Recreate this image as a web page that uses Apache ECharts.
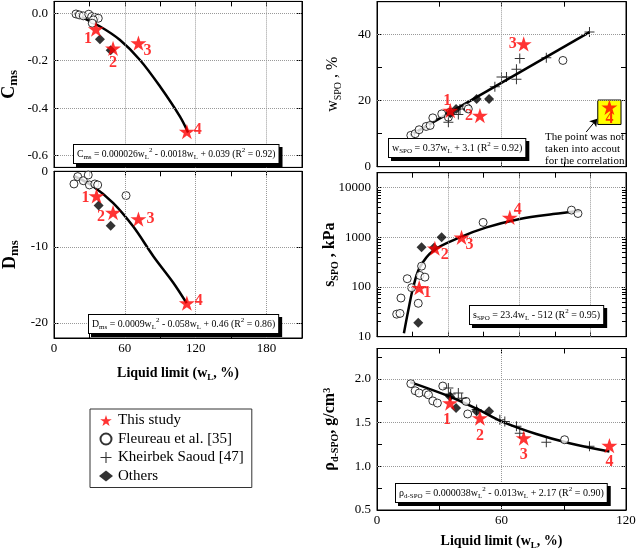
<!DOCTYPE html>
<html><head><meta charset="utf-8">
<script src="https://cdn.jsdelivr.net/npm/echarts@6/dist/echarts.min.js"></script>
<style>html,body{margin:0;padding:0;background:#fff}#c{width:637px;height:553px}</style>
</head><body><div id="c"></div>
<script>
// ---------------- data ----------------
const starLabels = ['1', '2', '3', '4'];
const seriesNames = ['This study', 'Fleureau et al. [35]', 'Kheirbek Saoud [47]', 'Others'];

// C_ms panel
const cmsStudy = [[35.5, -0.067], [50, -0.148], [71.5, -0.126], [112.5, -0.499]];
const cmsFleureau = [[18.6, -0.003], [21.4, -0.007], [24.8, -0.011], [29.4, -0.004], [31.9, -0.014], [34.7, -0.017], [37.5, -0.021], [33.3, -0.028], [32.4, -0.042]];
const cmsOthers = [[38.9, -0.11], [48, -0.156]];
const cmsFit = [[16.9, 0], [39, -0.056], [55.9, -0.113], [72.8, -0.197], [89.8, -0.309], [106.7, -0.436], [113.5, -0.503]];

// D_ms panel
const dmsStudy = [[36, -3.25], [50, -5.45], [71.5, -6.3], [112.5, -17.4]];
const dmsFleureau = [[16.9, -1.67], [20.1, -0.7], [24.8, -1.24], [29, -0.49], [30, -1.8], [34.6, -1.67], [37, -1.8], [61, -3.2]];
const dmsOthers = [[37.8, -4.5], [48, -7.2]];
const dmsFit = [[16.9, -0.62], [33.3, -2.0], [50.2, -4.2], [67.1, -7.3], [84.1, -11.2], [101, -14.7], [112.3, -17.4]];

// w_SPO panel
const wStudy = [[35.3, 17], [49.6, 15.5], [70.7, 37.2], [112, 18]];
const wFleureau = [[16.3, 9.5], [18.4, 10], [20.3, 11.2], [23.7, 12.2], [25.6, 12.5], [26.9, 14.8], [31.2, 16], [34.4, 15], [35.2, 16.5], [43.2, 18], [44, 17.5], [89.6, 32.2]];
const wKheirbek = [[34.4, 13.5], [39.2, 15.8], [40, 17.5], [56.8, 24.2], [60, 27.2], [62.4, 27.2], [67.2, 26.5], [67.2, 29.5], [68.8, 32.8], [81.6, 33], [102.4, 40.8]];
const wOthers = [[35.3, 16.2], [38.1, 17.5], [48, 20.5], [54, 20.5]];
const wFit = [[16, 9.5], [102.4, 40.8]];
const wExcludedBox = [[106.4, 12.8], [117.6, 20.2]];
const wArrow = [[100.8, 10.5], [106.1, 14.5]];

// s_SPO panel (log)
const sStudy = [[35.6, 97], [48.8, 603], [71.3, 1000], [112, 2512]];
const sFleureau = [[16.6, 28.4], [19.4, 29.4], [20.2, 60], [25.5, 147], [29.2, 97], [34.8, 47], [36.2, 171], [37.6, 263], [40.4, 158], [89.5, 1995], [164, 3532], [169.5, 3020]];
const sOthers = [[37.6, 631], [48, 614], [54.5, 1000], [34.8, 19]];
const sFit = [[22.7, 11.7], [26.4, 34], [30.6, 100], [36.2, 251], [47.4, 540], [69.9, 1000], [92.4, 1585], [120.4, 2344], [148.5, 2951], [171, 3400]];

// rho_d-SPO panel
const rStudy = [[35.2, 1.725], [49.6, 1.553], [70.7, 1.324], [112, 1.237]];
const rFleureau = [[16.3, 1.947], [18.4, 1.866], [20.3, 1.84], [23.7, 1.84], [24.8, 1.82], [26.9, 1.75], [29.1, 1.725], [31.7, 1.92], [42.9, 1.744], [43.7, 1.6], [90.4, 1.305]];
const rKheirbek = [[34.4, 1.897], [35.5, 1.83], [39.2, 1.84], [40.8, 1.78], [48, 1.65], [59.2, 1.534], [61.6, 1.515], [67.2, 1.458], [68.8, 1.38], [81.6, 1.275], [102.4, 1.229]];
const rOthers = [[35.2, 1.80], [38.1, 1.668], [48, 1.63], [54, 1.63]];
const rFit = [[16, 1.965], [35, 1.8], [48, 1.66], [60, 1.515], [76.8, 1.37], [92.8, 1.265], [112, 1.17]];

// tick labels
const leftXTicks = [0, 60, 120, 180];
const rightXTicks = [0, 60, 120];
const cmsYTicks = [-0.6, -0.4, -0.2, 0];
const dmsYTicks = [-20, -10, 0];
const wYTicks = [0, 20, 40];
const sYTicks = [10, 100, 1000, 10000];
const sYMinorTicks = [10, 20, 30, 40, 50, 60, 70, 80, 90, 100, 200, 300, 400, 500, 600, 700, 800, 900, 1000, 2000, 3000, 4000, 5000, 6000, 7000, 8000, 9000, 10000];
const rYTicks = [0.5, 1.0, 1.5, 2.0];

// ---------------- styling / layout ----------------
const FONT = "'Liberation Serif','Times New Roman',serif";
const STAR = 'path://M50,0L61.23,34.55L97.55,34.55L68.17,55.9L79.39,90.45L50,69.1L20.61,90.45L31.83,55.9L2.45,34.55L38.77,34.55Z';
const PLUS = 'path://M9,0h2v9h9v2h-9v9h-2v-9h-9v-2h9z';

const labelOffsets = [
  [[-8, 10], [0, 15], [9, 8], [11, -2]],
  [[-11, 2], [-12, 4], [12, 0], [12, -2]],
  [[-3, -10], [-11, 0], [-11, 0], [0, 12]],
  [[8, 5], [10, 7], [8, 8], [8, -8]],
  [[-3, 17], [0, 18], [0, 17], [0, 16]]
];

const grids = [
  {left: 54, top: 1.4, width: 248, height: 166},
  {left: 54, top: 171.3, width: 248, height: 166.7},
  {left: 377, top: 1.7, width: 249, height: 165},
  {left: 377, top: 172.7, width: 249, height: 164},
  {left: 377, top: 348.5, width: 249, height: 161.5}
].map(g => Object.assign({show: true, borderColor: '#000', borderWidth: 1, backgroundColor: 'transparent', containLabel: false, outerBoundsMode: 'none'}, g));

const tickLbl = {fontFamily: FONT, fontSize: 13, color: '#000'};
const axLine = {show: true, onZero: false, lineStyle: {color: '#000', width: 1}};
const axTick = {show: true, inside: true, length: 5, lineStyle: {color: '#000', width: 1}};

function xAxes(gi, max, showLabels, ticks, name, nameGap) {
  const base = {type: 'value', gridIndex: gi, min: 0, max: max, interval: 30, splitLine: {show: false},
    axisLine: axLine, axisTick: axTick};
  const bottom = Object.assign({}, base, {position: 'bottom',
    axisLabel: Object.assign({show: showLabels, margin: 4, formatter: v => ticks.indexOf(v) >= 0 ? String(v) : ''}, tickLbl)});
  if (name) {
    Object.assign(bottom, {name: name, nameLocation: 'middle', nameGap: nameGap, nameMoveOverlap: false,
      nameTextStyle: {rich: {
        a: {fontFamily: FONT, fontSize: 14, fontWeight: 'bold', color: '#000', lineHeight: 16, verticalAlign: 'top'},
        b: {fontFamily: FONT, fontSize: 9, fontWeight: 'bold', color: '#000', lineHeight: 9, verticalAlign: 'bottom'}
      }}});
  }
  const top = Object.assign({}, base, {position: 'top', axisLabel: {show: false}});
  return [bottom, top];
}

function yAxes(gi, opts, name, nameGap, rich) {
  const base = Object.assign({gridIndex: gi, splitLine: {show: false}, axisLine: axLine}, opts.base);
  const left = Object.assign({}, base, {position: 'left',
    axisTick: Object.assign({}, axTick, opts.tick || {}),
    axisLabel: Object.assign({margin: 6}, tickLbl, opts.label),
    name: name, nameLocation: 'middle', nameGap: nameGap, nameRotate: 90, nameMoveOverlap: false,
    nameTextStyle: {rich: rich}});
  const right = Object.assign({}, base, {position: 'right',
    axisTick: Object.assign({}, axTick, opts.tick || {}), axisLabel: {show: false}});
  return [left, right];
}

function richName(bold, size, subSize) {
  const w = bold ? 'bold' : 'normal';
  return {
    a: {fontFamily: FONT, fontSize: size, fontWeight: w, color: '#000', lineHeight: size + 2, verticalAlign: 'top'},
    b: {fontFamily: FONT, fontSize: subSize, fontWeight: w, color: '#000', lineHeight: subSize, verticalAlign: 'bottom'},
    c: {fontFamily: FONT, fontSize: subSize, fontWeight: w, color: '#000', lineHeight: subSize, verticalAlign: 'top'}
  };
}

const xAxis = [].concat(
  xAxes(0, 210, false, leftXTicks),
  xAxes(1, 210, true, leftXTicks, '{a|Liquid limit (w}{b|L}{a|, %)}', 28),
  xAxes(2, 120, false, rightXTicks),
  xAxes(3, 210, false, leftXTicks),
  xAxes(4, 120, true, rightXTicks, '{a|Liquid limit (w}{b|L}{a|, %)}', 24)
);

const yAxis = [].concat(
  yAxes(0, {base: {type: 'value', min: -0.65, max: 0.05},
    tick: {customValues: cmsYTicks}, label: {customValues: cmsYTicks, formatter: v => v.toFixed(1)}},
    '{a|C}{b|ms}', 34, richName(true, 18, 13)),
  yAxes(1, {base: {type: 'value', min: -22, max: 0},
    tick: {customValues: dmsYTicks}, label: {customValues: dmsYTicks, formatter: v => String(v)}},
    '{a|D}{b|ms}', 33, richName(true, 18, 13)),
  yAxes(2, {base: {type: 'value', min: 0, max: 50, interval: 10},
    label: {formatter: v => wYTicks.indexOf(v) >= 0 ? String(v) : '', showMaxLabel: false}},
    '{a|w}{b|SPO}{a| , %}', 34, richName(false, 16, 10)),
  yAxes(3, {base: {type: 'log', logBase: 10, min: 10, max: 20000},
    tick: {customValues: sYMinorTicks, length: 4},
    label: {customValues: sYTicks, formatter: v => String(Math.round(v))}},
    '{a|s}{b|SPO}{a| , kPa}', 37, richName(true, 16, 10)),
  yAxes(4, {base: {type: 'value', min: 0.5, max: 2.35, interval: 0.25},
    label: {formatter: v => (Math.abs(v * 2 - Math.round(v * 2)) < 1e-6) ? v.toFixed(1) : '', showMaxLabel: false}},
    '{a|ρ}{b|d-SPO}{a|, g/cm}{c|3}', 37, richName(true, 16, 10))
);

// ---------------- series ----------------
function studySeries(gi, data) {
  return {name: seriesNames[0], type: 'scatter', xAxisIndex: gi * 2, yAxisIndex: gi * 2,
    symbol: STAR, symbolSize: 16, symbolKeepAspect: true, z: 6,
    itemStyle: {color: '#ff0000'}, emphasis: {disabled: true},
    label: {show: true, position: 'inside', formatter: p => starLabels[p.dataIndex],
      color: '#ff0000', fontWeight: 'bold', fontSize: 16, fontFamily: FONT},
    data: data.map((d, i) => ({value: d, label: {offset: labelOffsets[gi][i]}}))
  };
}
function circleSeries(gi, data) {
  return {name: seriesNames[1], type: 'scatter', xAxisIndex: gi * 2, yAxisIndex: gi * 2,
    symbol: 'circle', symbolSize: 8, z: 4, emphasis: {disabled: true},
    itemStyle: {color: '#fff', borderColor: '#000', borderWidth: 1}, data: data};
}
function plusSeries(gi, data) {
  return {name: seriesNames[2], type: 'scatter', xAxisIndex: gi * 2, yAxisIndex: gi * 2,
    symbol: PLUS, symbolSize: 10, z: 4, emphasis: {disabled: true},
    itemStyle: {color: '#000'}, data: data};
}
function diamondSeries(gi, data) {
  return {name: seriesNames[3], type: 'scatter', xAxisIndex: gi * 2, yAxisIndex: gi * 2,
    symbol: 'diamond', symbolSize: 10, z: 5, emphasis: {disabled: true},
    itemStyle: {color: '#000'}, data: data};
}
function fitSeries(gi, data, vx, hy, extraLines, area) {
  const ml = vx.map(v => ({xAxis: v})).concat(hy.map(v => ({yAxis: v}))).concat(extraLines || []);
  const s = {name: 'fit', type: 'line', xAxisIndex: gi * 2, yAxisIndex: gi * 2, data: data,
    smooth: 0.35, showSymbol: false, symbol: 'none', z: 2, silent: true, emphasis: {disabled: true},
    lineStyle: {color: '#000', width: 2.5},
    markLine: {silent: true, symbol: 'none', animation: false, label: {show: false},
      lineStyle: {type: 'dotted', color: '#999', width: 1}, data: ml}};
  if (area) {
    s.markArea = {silent: true, itemStyle: {color: '#ffff00', borderColor: '#000', borderWidth: 1},
      data: [[{coord: area[0]}, {coord: area[1]}]]};
  }
  return s;
}

const arrowLine = [[
  {coord: wArrow[0], symbol: 'none', lineStyle: {type: 'solid', color: '#000', width: 1}},
  {coord: wArrow[1], symbol: 'arrow', symbolSize: 7, lineStyle: {type: 'solid', color: '#000', width: 1}}
]];

const series = [
  fitSeries(0, cmsFit, [60, 120, 180], [0, -0.2, -0.4, -0.6]),
  circleSeries(0, cmsFleureau), diamondSeries(0, cmsOthers), studySeries(0, cmsStudy),

  fitSeries(1, dmsFit, [60, 120, 180], [-10, -20]),
  circleSeries(1, dmsFleureau), diamondSeries(1, dmsOthers), studySeries(1, dmsStudy),

  fitSeries(2, wFit, [60], [20, 40], arrowLine, wExcludedBox),
  circleSeries(2, wFleureau), plusSeries(2, wKheirbek), diamondSeries(2, wOthers), studySeries(2, wStudy),

  fitSeries(3, sFit, [60, 120, 180], [100, 1000, 10000]),
  circleSeries(3, sFleureau), diamondSeries(3, sOthers), studySeries(3, sStudy),

  fitSeries(4, rFit, [60], [1.0, 1.5, 2.0]),
  circleSeries(4, rFleureau), plusSeries(4, rKheirbek), diamondSeries(4, rOthers), studySeries(4, rStudy)
];

// ---------------- equation boxes ----------------
const eqRich = (fill, fs) => ({
  t: {fontFamily: FONT, fontSize: fs, fill: fill, color: fill, lineHeight: 14, verticalAlign: 'middle'},
  s: {fontFamily: FONT, fontSize: 7, fill: fill, color: fill, lineHeight: 6, verticalAlign: 'bottom'},
  p: {fontFamily: FONT, fontSize: 7, fill: fill, color: fill, lineHeight: 6, verticalAlign: 'top'}
});
function eqBox(left, top, text, fs) {
  fs = fs || 10;
  const common = {text: text, fontFamily: FONT, fontSize: fs, padding: [2, 3, 2, 3], borderWidth: 1};
  return [
    {type: 'text', left: left + 3, top: top + 3, z: 50, silent: true,
      style: Object.assign({}, common, {fill: 'rgba(0,0,0,0)', rich: eqRich('rgba(0,0,0,0)', fs), backgroundColor: '#000', borderColor: '#000'})},
    {type: 'text', left: left, top: top, z: 51, silent: true,
      style: Object.assign({}, common, {fill: '#000', rich: eqRich('#000', fs), backgroundColor: '#fff', borderColor: '#000'})}
  ];
}
const graphic = [].concat(
  eqBox(73, 144, '{t|C}{s|ms}{t| = 0.000026w}{s|L}{p|2}{t| - 0.0018w}{s|L}{t| + 0.039 (R}{p|2}{t| = 0.92)}', 9.6),
  eqBox(88, 314, '{t|D}{s|ms}{t| = 0.0009w}{s|L}{p|2}{t| - 0.058w}{s|L}{t| + 0.46 (R}{p|2}{t| = 0.86)}', 9.8),
  eqBox(388, 138, '{t|w}{s|SPO}{t| = 0.37w}{s|L}{t| + 3.1 (R}{p|2}{t| = 0.92)}'),
  eqBox(469, 305, '{t|s}{s|SPO}{t| = 23.4w}{s|L}{t| - 512 (R}{p|2}{t| = 0.95)}'),
  eqBox(395, 483, '{t|ρ}{s|d-SPO}{t| = 0.000038w}{s|L}{p|2}{t| - 0.013w}{s|L}{t| + 2.17 (R}{p|2}{t| = 0.90)}'),
  [{type: 'text', left: 545, top: 131, z: 60, silent: true,
    style: {text: 'The point was not\ntaken into accout\nfor the correlation', fontFamily: FONT, fontSize: 11,
      fill: '#000', align: 'center', lineHeight: 12}}]
);

const chart = echarts.init(document.getElementById('c'), null, {renderer: 'canvas'});
chart.setOption({
  animation: false,
  backgroundColor: '#fff',
  textStyle: {fontFamily: FONT},
  grid: grids,
  xAxis: xAxis,
  yAxis: yAxis,
  legend: {data: seriesNames, orient: 'vertical', left: 90, top: 409, itemWidth: 14, itemHeight: 11, itemGap: 3.5,
    padding: [4, 8, 4, 9], borderColor: '#333', borderWidth: 1, borderRadius: 0, selectedMode: false,
    textStyle: {fontFamily: FONT, fontSize: 15, color: '#000'}},
  series: series,
  graphic: graphic
});
</script>
</body></html>
